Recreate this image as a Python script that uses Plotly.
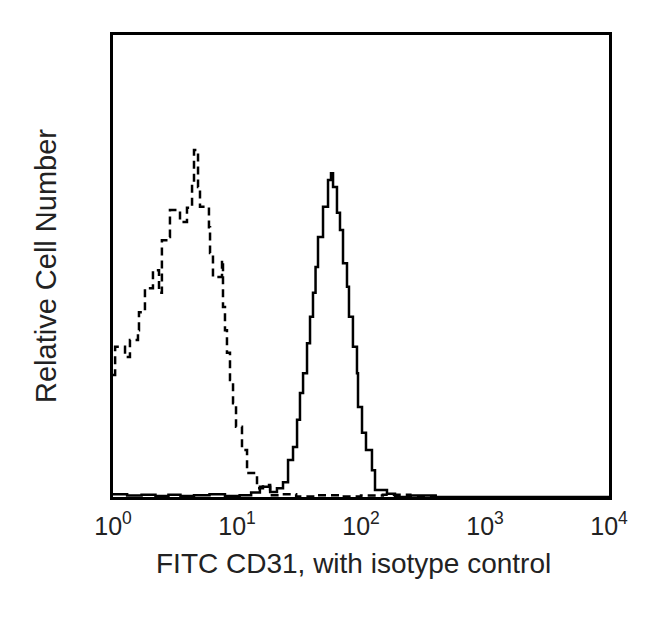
import plotly.graph_objects as go

# Isotype control (dashed) histogram: fluorescence intensity vs relative count
iso_x = [1.0, 1.04, 1.25, 1.37, 1.59, 1.62, 1.81, 2.10, 2.35, 2.48, 2.78, 2.88, 3.47, 3.95,
         4.34, 4.50, 4.85, 5.03, 5.94, 6.06, 6.40, 7.57, 7.71, 8.00, 8.30, 8.78, 9.29, 9.82,
         10.97, 12.05, 14.5, 16.2, 18.5, 22.0, 30.0, 45.0, 70.0, 100.0, 150.0, 250.0, 400.0]
iso_y = [26.4, 32.5, 30.3, 34.0, 36.1, 40.0, 45.2, 49.1, 44.2, 55.6, 56.3, 62.1, 59.5, 62.6,
         68.0, 75.1, 67.1, 62.8, 58.4, 52.8, 47.6, 51.3, 41.1, 36.1, 31.2, 25.3, 20.3, 15.2,
         10.2, 5.2, 1.9, 2.6, 0.4, 0.6, 0.1, 0.4, 0.1, 0.3, 0.5, 0.1, 0.0]

# FITC CD31 (solid) histogram
cd31_x = [1.0, 1.3, 1.7, 2.2, 2.8, 3.5, 4.5, 6.0, 8.0, 10.5, 13.0, 15.3, 18.5, 21.0, 23.5,
          25.8, 28.3, 30.5, 32.2, 34.1, 36.7, 38.8, 41.0, 43.0, 45.0, 49.4, 54.2, 57.3, 59.5,
          64.0, 67.7, 71.6, 77.1, 80.0, 86.1, 92.8, 94.6, 101.9, 109.7, 122.6, 129.7, 162.0,
          188.0, 250.0, 400.0, 1000.0, 3000.0, 10000.0]
cd31_y = [0.6, 0.3, 0.5, 0.2, 0.5, 0.2, 0.4, 0.6, 0.2, 0.4, 1.0, 2.2, 1.1, 1.9, 3.2,
          8.0, 10.8, 16.7, 22.5, 26.8, 33.3, 39.0, 44.2, 49.8, 56.3, 62.8, 68.6, 70.1, 67.1,
          61.5, 57.8, 50.6, 45.5, 39.0, 32.5, 26.8, 19.5, 13.9, 10.2, 5.8, 1.5, 0.7,
          0.0, 0.3, 0.0, 0.0, 0.0, 0.0]

tick_vals = [1, 10, 100, 1000, 10000]
tick_text = ["10<sup>0</sup>", "10<sup>1</sup>", "10<sup>2</sup>", "10<sup>3</sup>", "10<sup>4</sup>"]

FONT = "Liberation Sans, Arial, sans-serif"
TXT = "#222222"

fig = go.Figure()
fig.add_trace(go.Scatter(x=iso_x, y=iso_y, mode="lines", line_shape="hv",
                         line=dict(color="black", width=2.5, dash="8px,5px"),
                         showlegend=False))
fig.add_trace(go.Scatter(x=cd31_x, y=cd31_y, mode="lines", line_shape="hv",
                         line=dict(color="black", width=2.5),
                         showlegend=False))

fig.update_layout(
    width=642, height=614,
    margin=dict(l=105, r=41, t=27, b=125),
    paper_bgcolor="white", plot_bgcolor="white",
    font=dict(family=FONT, color=TXT, size=25),
    xaxis=dict(type="log", range=[0, 4], tickvals=tick_vals, ticktext=tick_text,
               showgrid=False, zeroline=False, showline=True, mirror=True,
               linecolor="black", linewidth=2.5, ticks="", ticklabelstandoff=5,
               tickfont=dict(size=25, family=FONT, color=TXT)),
    yaxis=dict(range=[0, 100], showticklabels=False, ticks="",
               showgrid=False, zeroline=False, showline=True, mirror=True,
               linecolor="black", linewidth=2.5),
    annotations=[
        dict(text="FITC CD31, with isotype control", xref="paper", yref="paper",
             x=0.5, y=0, xanchor="center", yanchor="middle", yshift=-66, xshift=-8,
             showarrow=False, font=dict(size=28, family=FONT, color=TXT)),
        dict(text="Relative Cell Number", xref="paper", yref="paper",
             x=0, y=0.5, xanchor="center", yanchor="middle", xshift=-67,
             textangle=-90, showarrow=False, font=dict(size=29, family=FONT, color=TXT)),
    ],
)

fig.write_html("out.html")
